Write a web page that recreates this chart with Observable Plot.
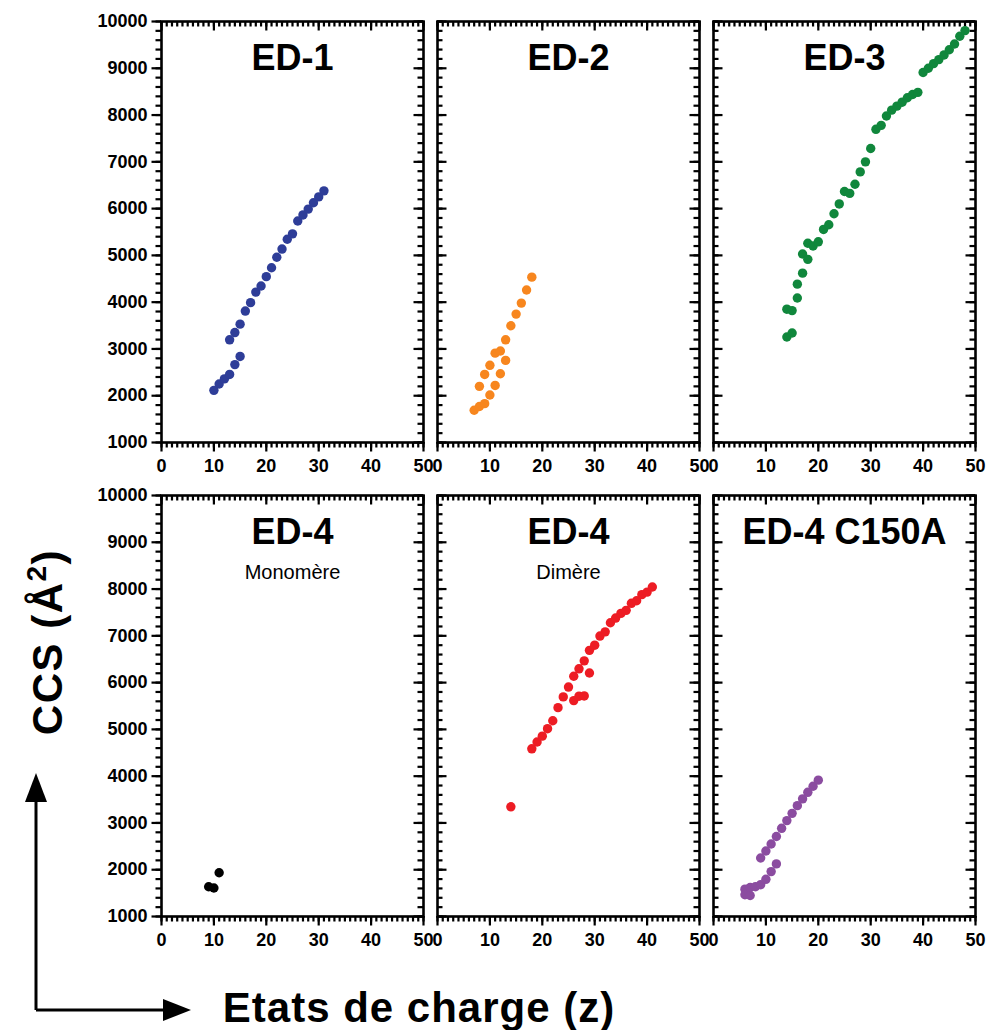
<!DOCTYPE html>
<html><head><meta charset="utf-8">
<script src="https://cdn.jsdelivr.net/npm/d3@7"></script>
<script src="https://cdn.jsdelivr.net/npm/@observablehq/plot@0.6"></script>
<style>
body{margin:0;background:#fff;}
#root{position:relative;width:990px;height:1030px;overflow:hidden;font-family:"Liberation Sans",Arial,sans-serif;}
.panel{position:absolute;}
.panel svg{max-width:none !important;}
#overlay{position:absolute;left:0;top:0;}
</style></head><body><div id="root"></div>
<script>
// ---- tick values ----
const chargeTicks = [0, 10, 20, 30, 40, 50];
const ccsTicks = [1000, 2000, 3000, 4000, 5000, 6000, 7000, 8000, 9000, 10000];
const chargeMinor = d3.range(0, 51, 1);
const ccsMinor = d3.range(1000, 10001, 200);

// ---- data (charge state z, CCS in Å²) ----
const ed1Charge = [10,11,12,13,14,15,13,14,15,16,17,18,19,20,21,22,23,24,25,26,27,28,29,30,31];
const ed1CCS = [2115,2250,2360,2455,2665,2840,3195,3350,3530,3810,3990,4215,4345,4545,4735,4960,5135,5345,5460,5735,5865,5990,6125,6250,6380];

const ed2Charge = [7,8,9,10,11,12,13,8,9,10,11,12,13,14,15,16,17,18];
const ed2CCS = [1690,1770,1830,2015,2220,2470,2755,2200,2455,2650,2910,2955,3195,3495,3745,3980,4260,4535];

const ed3Charge = [14,15,14,15,16,16,17,17,18,18,19,20,21,22,23,24,25,26,27,28,29,30,31,32,33,34,35,36,37,38,39,40,41,42,43,44,45,46,47,48];
const ed3CCS = [3255,3340,3850,3820,4090,4385,4620,5030,4915,5260,5200,5290,5555,5655,5890,6100,6365,6325,6520,6785,7000,7285,7695,7780,7980,8105,8190,8275,8370,8440,8485,8910,9000,9100,9185,9285,9395,9520,9685,9805];

const ed4MonoCharge = [9,10,11];
const ed4MonoCCS = [1635,1610,1935];

const ed4DimCharge = [14,18,19,20,21,22,23,24,25,26,26,27,27,28,28,29,29,30,31,32,33,34,35,36,37,38,39,40,41];
const ed4DimCCS = [3345,4585,4730,4855,5015,5185,5465,5695,5905,6135,5615,6295,5710,6465,5715,6690,6205,6800,6995,7085,7280,7380,7480,7545,7695,7750,7880,7935,8045];

const c150Charge = [6,6,7,7,8,9,10,11,12,9,10,11,12,13,14,15,16,17,18,19,20];
const c150CCS = [1585,1465,1450,1620,1635,1680,1795,1960,2125,2250,2400,2550,2710,2885,3050,3205,3370,3515,3655,3785,3915];

const titles = ["ED-1","ED-2","ED-3","ED-4","ED-4","ED-4 C150A"];
const subtitles = ["","","","Monomère","Dimère",""];
const colors = ["#2E3D98","#F7861E","#10873C","#000000","#ED1C24","#8B4CA0"];

const table = (zs, cs) => zs.map((z, i) => ({z, ccs: cs[i]}));
const datasets = [
  table(ed1Charge, ed1CCS), table(ed2Charge, ed2CCS), table(ed3Charge, ed3CCS),
  table(ed4MonoCharge, ed4MonoCCS), table(ed4DimCharge, ed4DimCCS), table(c150Charge, c150CCS)
];

// ---- layout ----
const FONT = '"Liberation Sans", Arial, Helvetica, sans-serif';
const IW = 262, IH = 421;
const X0 = 0, X1 = 50, Y0 = 1000, Y1 = 10000;
const colLeft = [161, 437, 713];
const rowTop = [21, 495];
const root = document.getElementById("root");

// pixel lengths converted to data units of each scale
const pxX = px => px * (X1 - X0) / IW;
const pxY = px => px * (Y1 - Y0) / IH;

function panel(i) {
  const col = i % 3, row = Math.floor(i / 3);
  const first = col === 0;
  const ML = first ? 80 : 14, MR = 24, MT = 14, MB = 50;
  const sw = 2.2;
  const MAJ = 9.5, MIN = 5.5;
  const tb = (vals, len) => Plot.ruleX(vals, {x: d => d, y1: Y0, y2: Y0 - pxY(len), stroke: "#000", strokeWidth: sw});
  const tt = (vals, len) => Plot.ruleX(vals, {x: d => d, y1: Y1, y2: Y1 - pxY(len), stroke: "#000", strokeWidth: sw});
  const tl = (vals, len, out) => Plot.ruleY(vals, {y: d => d, x1: X0, x2: out ? X0 - pxX(len) : X0 + pxX(len), stroke: "#000", strokeWidth: sw});
  const tr = (vals, len) => Plot.ruleY(vals, {y: d => d, x1: X1, x2: X1 - pxX(len), stroke: "#000", strokeWidth: sw});
  const marks = [
    tb(chargeMinor, MIN), tb(chargeTicks, MAJ),
    tt(chargeMinor, MIN), tt(chargeTicks, MAJ),
    tl(ccsMinor, MIN, first), tl(ccsTicks, MAJ, first),
    tr(ccsMinor, MIN), tr(ccsTicks, MAJ),
    Plot.frame({stroke: "#000", strokeWidth: 2.6}),
    Plot.axisX({ticks: chargeTicks, tickSize: 0, tickPadding: 17, tickFormat: d => String(d), fontSize: 18, fontWeight: "bold", label: null, fill: "#000"}),
    Plot.dot(datasets[i], {x: "z", y: "ccs", r: 4.7, fill: colors[i]}),
    Plot.text([titles[i]], {text: d => d, frameAnchor: "top", dy: 48, lineAnchor: "bottom", fontSize: 36, fontWeight: "bold", fill: "#000"})
  ];
  if (subtitles[i]) {
    marks.push(Plot.text([subtitles[i]], {text: d => d, frameAnchor: "top", dy: 83, lineAnchor: "bottom", fontSize: 20, fill: "#000"}));
  }
  if (first) {
    marks.push(Plot.axisY({ticks: ccsTicks, tickSize: 0, tickPadding: 14, tickFormat: d => String(d), fontSize: 18, fontWeight: "bold", label: null, fill: "#000"}));
  }
  const chart = Plot.plot({
    width: ML + IW + MR, height: MT + IH + MB,
    marginLeft: ML, marginRight: MR, marginTop: MT, marginBottom: MB,
    x: {domain: [X0, X1], axis: null},
    y: {domain: [Y0, Y1], axis: null},
    style: {background: "transparent", overflow: "visible", fontFamily: FONT, color: "#000", maxWidth: "none"},
    marks
  });
  const div = document.createElement("div");
  div.className = "panel";
  div.style.left = (colLeft[col] - ML) + "px";
  div.style.top = (rowTop[row] - MT) + "px";
  div.style.width = (ML + IW + MR) + "px";
  div.appendChild(chart);
  root.appendChild(div);
}
for (let i = 0; i < 6; i++) panel(i);

// ---- overall axis titles and arrows ----
const ns = "http://www.w3.org/2000/svg";
const ov = document.createElementNS(ns, "svg");
ov.setAttribute("id", "overlay");
ov.setAttribute("width", 990);
ov.setAttribute("height", 1030);
ov.innerHTML = `
  <g stroke="#000" stroke-width="3" fill="none">
    <path d="M36,1010V798"/>
    <path d="M36,1010H166"/>
  </g>
  <g fill="#000">
    <path d="M36,773L25,802L47,802Z"/>
    <path d="M191,1010L163,999L163,1021Z"/>
  </g>
  <text transform="translate(62,642) rotate(-90)" text-anchor="middle" font-family='${FONT}' font-size="42" font-weight="bold" letter-spacing="1.5">CCS (Å<tspan dy="-16" font-size="28">2</tspan><tspan dy="16">)</tspan></text>
  <text x="419" y="1022" text-anchor="middle" font-family='${FONT}' font-size="42" font-weight="bold" letter-spacing="1">Etats de charge (z)</text>
`;
root.appendChild(ov);
</script></body></html>
